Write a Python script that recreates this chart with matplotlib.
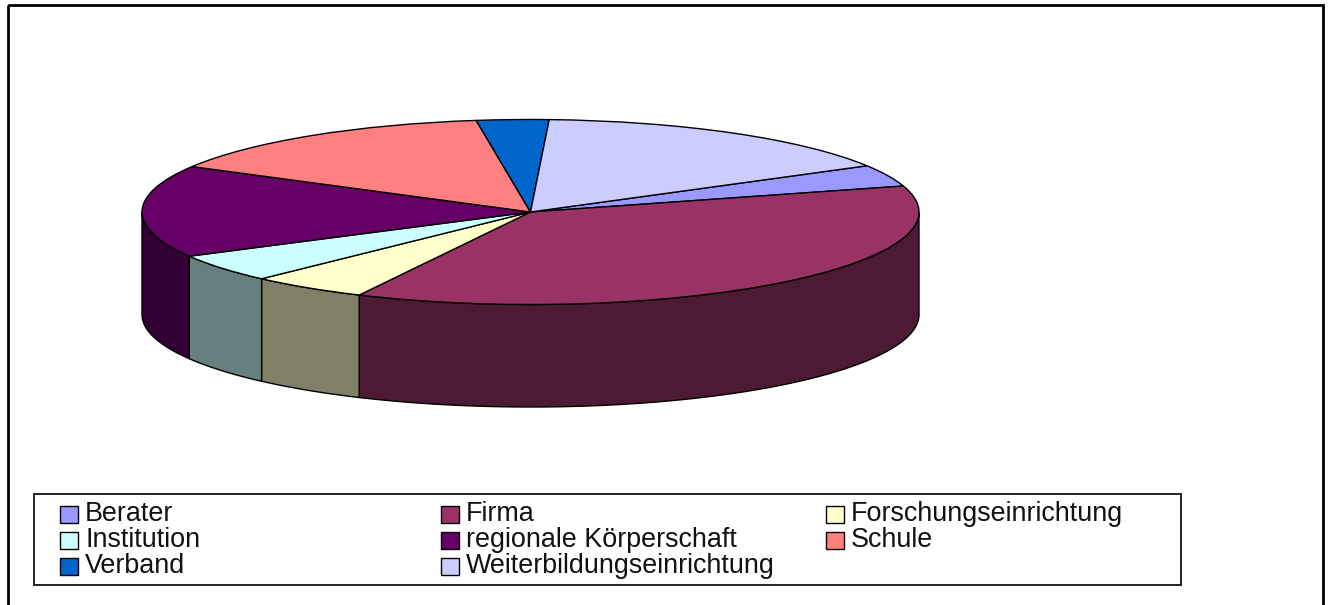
import matplotlib
matplotlib.use('Agg')
import matplotlib.pyplot as plt
from matplotlib.colors import to_rgb
from matplotlib.patches import Rectangle
import numpy as np

plt.rcParams['font.family'] = ['Liberation Sans', 'DejaVu Sans']

categories = ['Berater', 'Firma', 'Forschungseinrichtung', 'Institution',
              'regionale Körperschaft', 'Schule', 'Verband', 'Weiterbildungseinrichtung']
values = [3.8, 36.8, 4.9, 4.9, 16.1, 14.6, 3.0, 15.9]
colors = ['#9999FF', '#993366', '#FFFFCC', '#CCFFFF', '#660066', '#FF8080', '#0066CC', '#CCCCFF']

W, H = 1329, 605
start_angle = 30
# pie geometry in pixels
cx, cy = 530.5, 212
rx, ry = 388.5, 92.5
depth = 102.5

fig = plt.figure(figsize=(W / 100, H / 100), dpi=100)
fig.patch.set_facecolor('white')

# the pie axes is squashed so the circle comes out as an ellipse
ax = fig.add_axes([0, 0, 1, 1])

# side walls first, top of the pie goes over them
angle = start_angle
for val, col in zip(values, colors):
    sweep = val / sum(values) * 360
    theta = np.radians(np.linspace(angle, angle - sweep, 200))
    theta = theta[np.sin(theta) <= 0]
    if len(theta) > 1:
        x = np.cos(theta)
        y = np.sin(theta)
        shade = tuple(c * 0.5 for c in to_rgb(col))
        ax.fill(np.r_[x, x[::-1]], np.r_[y, y[::-1] - depth / ry],
                facecolor=shade, edgecolor='black', linewidth=1.0)
    angle -= sweep

ax.pie(values, colors=colors, startangle=start_angle, counterclock=False,
       wedgeprops={'edgecolor': 'black', 'linewidth': 1.0})
ax.set_aspect('auto')
ax.set_xlim(-cx / rx, (W - cx) / rx)
ax.set_ylim(-(H - cy) / ry, cy / ry)

# overlay in pixel coordinates for the frame and the legend
ov = fig.add_axes([0, 0, 1, 1])
ov.set_xlim(0, W)
ov.set_ylim(H, 0)
ov.axis('off')
ov.patch.set_alpha(0)

ov.add_patch(Rectangle((8, 5), 1315, 620, facecolor='none', edgecolor='black',
                       linewidth=2.0, clip_on=True))
ov.add_patch(Rectangle((34, 494), 1147, 91, facecolor='white', edgecolor='#222222',
                       linewidth=1.4))

col_x = [60, 441, 826]
row_y = [514, 540, 566]
for i, (label, col) in enumerate(zip(categories, colors)):
    lx = col_x[i % 3]
    ly = row_y[i // 3]
    ov.add_patch(Rectangle((lx, ly - 8), 18, 17, facecolor=col, edgecolor='black', linewidth=1.0))
    ov.text(lx + 25, ly + 7, label, fontsize=19.4, color='#111111', va='baseline', ha='left')

fig.savefig('out.png', dpi=100)
plt.close(fig)
